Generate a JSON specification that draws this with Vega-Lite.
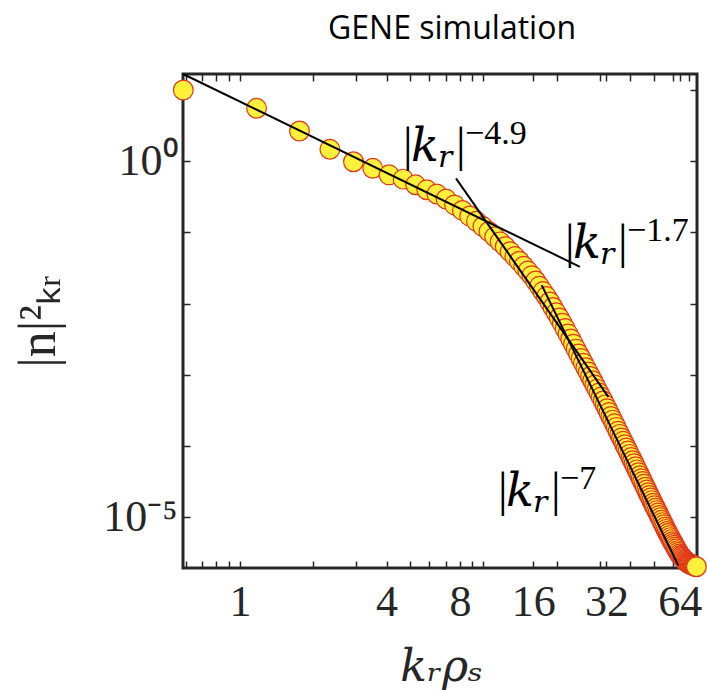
{
 "$schema": "https://vega.github.io/schema/vega-lite/v6.json",
 "width": 514,
 "height": 494,
 "autosize": {"type": "none"},
 "padding": {"left": 183, "top": 74, "right": 10, "bottom": 123},
 "background": "white",
 "title": {"text": "GENE simulation", "font": "Open Sans", "fontSize": 32, "fontWeight": "normal", "color": "#000000", "anchor": "middle", "dx": 12, "offset": -3, "baseline": "alphabetic", "frame": "group"},
 "config": {
  "view": {"stroke": "#262626", "strokeWidth": 3},
  "axis": {"grid": false, "domain": false, "tickColor": "#262626", "tickWidth": 1.5, "labelColor": "#262626", "titleColor": "#262626", "labelFont": "Liberation Serif", "titleFont": "DejaVu Serif", "titleFontWeight": "normal"}
 },
 "datasets": {
  "pts": [
   {"k":0.585,"v":10.07},{"k":1.17,"v":5.57},{"k":1.755,"v":2.67},{"k":2.34,"v":1.476},{"k":2.925,"v":0.986},
   {"k":3.51,"v":0.798},{"k":4.095,"v":0.646},{"k":4.68,"v":0.562},{"k":5.265,"v":0.468},{"k":5.85,"v":0.398},
   {"k":6.435,"v":0.347},{"k":7.02,"v":0.295},{"k":7.605,"v":0.244},{"k":8.19,"v":0.204},{"k":8.775,"v":0.170},
   {"k":9.36,"v":0.1435},{"k":9.945,"v":0.121},{"k":10.53,"v":0.103},{"k":11.115,"v":0.0869},{"k":11.7,"v":0.0738},
   {"k":12.285,"v":0.0631},{"k":12.87,"v":0.0537},{"k":13.455,"v":0.0458},{"k":14.04,"v":0.0394},{"k":14.625,"v":0.0335},
   {"k":15.21,"v":0.0287},{"k":15.795,"v":0.0247},{"k":16.38,"v":0.0208},{"k":16.965,"v":0.0175},{"k":17.55,"v":0.01476},
   {"k":18.135,"v":0.01256},{"k":18.72,"v":0.01054},{"k":19.305,"v":8.83e-3},{"k":19.89,"v":7.43e-3},{"k":20.475,"v":6.27e-3},
   {"k":21.06,"v":5.31e-3},{"k":21.645,"v":4.47e-3},{"k":22.23,"v":3.75e-3},{"k":22.815,"v":3.18e-3},{"k":23.4,"v":2.69e-3},
   {"k":23.985,"v":2.29e-3},{"k":24.57,"v":1.96e-3},{"k":25.155,"v":1.69e-3},{"k":25.74,"v":1.45e-3},{"k":26.325,"v":1.25e-3},
   {"k":26.91,"v":1.09e-3},{"k":27.495,"v":9.44e-4},{"k":28.08,"v":8.24e-4},{"k":28.665,"v":7.18e-4},{"k":29.25,"v":6.28e-4},
   {"k":29.835,"v":5.52e-4},{"k":30.42,"v":4.85e-4},{"k":31.005,"v":4.27e-4},{"k":31.59,"v":3.77e-4},{"k":32.175,"v":3.33e-4},
   {"k":32.76,"v":2.94e-4},{"k":33.345,"v":2.59e-4},{"k":33.93,"v":2.30e-4},{"k":34.515,"v":2.04e-4},{"k":35.1,"v":1.82e-4},
   {"k":35.685,"v":1.61e-4},{"k":36.27,"v":1.45e-4},{"k":36.855,"v":1.29e-4},{"k":37.44,"v":1.16e-4},{"k":38.025,"v":1.04e-4},
   {"k":38.61,"v":9.35e-5},{"k":39.195,"v":8.45e-5},{"k":39.78,"v":7.60e-5},{"k":40.365,"v":6.85e-5},{"k":40.95,"v":6.19e-5},
   {"k":41.535,"v":5.62e-5},{"k":42.12,"v":5.08e-5},{"k":42.705,"v":4.60e-5},{"k":43.29,"v":4.20e-5},{"k":43.875,"v":3.80e-5},
   {"k":44.46,"v":3.46e-5},{"k":45.045,"v":3.15e-5},{"k":45.63,"v":2.88e-5},{"k":46.215,"v":2.62e-5},{"k":46.8,"v":2.40e-5},
   {"k":47.385,"v":2.19e-5},{"k":47.97,"v":2.01e-5},{"k":48.555,"v":1.85e-5},{"k":49.14,"v":1.70e-5},{"k":49.725,"v":1.56e-5},
   {"k":50.31,"v":1.44e-5},{"k":50.895,"v":1.33e-5},{"k":51.48,"v":1.23e-5},{"k":52.065,"v":1.14e-5},{"k":52.65,"v":1.05e-5},
   {"k":53.235,"v":9.75e-6},{"k":53.82,"v":9.02e-6},{"k":54.405,"v":8.34e-6},{"k":54.99,"v":7.76e-6},{"k":55.575,"v":7.18e-6},
   {"k":56.16,"v":6.70e-6},{"k":56.745,"v":6.25e-6},{"k":57.33,"v":5.86e-6},{"k":57.915,"v":5.47e-6},{"k":58.5,"v":5.13e-6},
   {"k":59.085,"v":4.81e-6},{"k":59.67,"v":4.49e-6},{"k":60.255,"v":4.24e-6},{"k":60.84,"v":4.01e-6},{"k":61.425,"v":3.78e-6},
   {"k":62.01,"v":3.57e-6},{"k":62.595,"v":3.37e-6},{"k":63.18,"v":3.19e-6},{"k":63.765,"v":3.01e-6},{"k":64.35,"v":2.89e-6},
   {"k":64.935,"v":2.80e-6},{"k":65.52,"v":2.71e-6},{"k":66.105,"v":2.62e-6},{"k":66.69,"v":2.54e-6},{"k":67.275,"v":2.46e-6},
   {"k":67.86,"v":2.39e-6},{"k":68.445,"v":2.31e-6},{"k":69.03,"v":2.27e-6},{"k":69.615,"v":2.23e-6},{"k":70.2,"v":2.20e-6},
   {"k":70.785,"v":2.17e-6},{"k":71.37,"v":2.14e-6},{"k":71.955,"v":2.11e-6},{"k":72.54,"v":2.08e-6},{"k":73.125,"v":2.06e-6},
   {"k":73.71,"v":2.04e-6},{"k":74.295,"v":2.02e-6},{"k":74.88,"v":2.00e-6}
  ],
  "fits": [
   {"fit":"a","k":0.5835,"v":16.9},{"fit":"a","k":24.9,"v":0.0329},
   {"fit":"b","k":7.71,"v":0.577},{"fit":"b","k":32.56,"v":4.88e-4},
   {"fit":"c","k":17.34,"v":0.0182},{"fit":"c","k":63.1,"v":2.09e-6}
  ],
  "ann": [
   {"k":4.76,"v":1.01,"sup":"−4.9"},
   {"k":22.03,"v":0.0436,"sup":"−1.7"},
   {"k":11.69,"v":1.445e-5,"sup":"−7"}
  ]
 },
 "layer": [
  {
   "data": {"name": "pts"},
   "mark": {"type": "circle", "size": 390, "fill": "#FFF03C", "stroke": "#E0361A", "strokeWidth": 1.2, "opacity": 1, "clip": false},
   "encoding": {
    "x": {"field": "k", "type": "quantitative", "scale": {"type": "log", "domain": [0.5835, 75.3], "nice": false},
     "axis": {"orient": "bottom", "values": [0.6,0.7,0.8,0.9,1,2,3,4,5,6,7,8,9,10,16,20,30,32,40,50,60,64,70],
      "labelExpr": "indexof([1,4,8,16,32,64], datum.value) >= 0 ? '' + datum.value : ''",
      "tickSize": -7, "labelPadding": 54, "labelBaseline": "alphabetic", "labelFontSize": 44, "labelOverlap": false, "labelFlush": false,
      "title": "kᵣρₛ", "titleFontSize": 44, "titleFontStyle": "italic", "titleX": 258, "titleY": 112, "titleBaseline": "alphabetic", "titleAlign": "center"}},
    "y": {"field": "v", "type": "quantitative", "scale": {"type": "log", "domain": [1.919e-6, 16.9], "nice": false},
     "axis": {"orient": "left", "values": [10,1,0.1,0.01,0.001,0.0001,0.00001],
      "labelExpr": "datum.value == 1 ? '10⁰' : (datum.value == 0.00001 ? '10⁻⁵' : '')",
      "tickSize": -7, "labelPadding": 13, "labelFontSize": 44, "labelBaseline": "middle", "labelOverlap": false, "labelFlush": false,
      "title": "\u00a0\u00a0\u00a0|n|²ₖᵣ", "titleFont": "Liberation Serif", "titleFontSize": 52, "titleAngle": -90, "titleX": -129, "titleY": 247, "titleBaseline": "alphabetic", "titleAlign": "center"}}
   }
  },
  {
   "data": {"name": "fits"},
   "mark": {"type": "line", "color": "#000000", "strokeWidth": 2, "clip": false},
   "encoding": {
    "x": {"field": "k", "type": "quantitative", "scale": {"type": "log", "domain": [0.5835, 75.3], "nice": false},
     "axis": {"orient": "top", "values": [0.6,0.7,0.8,0.9,1,2,3,4,5,6,7,8,9,10,16,20,30,32,40,50,60,64,70], "labels": false, "tickSize": -7, "title": null}},
    "y": {"field": "v", "type": "quantitative", "scale": {"type": "log", "domain": [1.919e-6, 16.9], "nice": false},
     "axis": {"orient": "right", "values": [10,1,0.1,0.01,0.001,0.0001,0.00001], "labels": false, "tickSize": -7, "title": null}},
    "detail": {"field": "fit"}
   }
  },
  {
   "data": {"name": "ann"},
   "mark": {"type": "text", "text": "|", "font": "Liberation Serif", "fontSize": 48, "align": "left", "baseline": "alphabetic", "color": "#000000", "dx": -2},
   "encoding": {
    "x": {"field": "k", "type": "quantitative", "scale": {"type": "log", "domain": [0.5835, 75.3], "nice": false}, "axis": null},
    "y": {"field": "v", "type": "quantitative", "scale": {"type": "log", "domain": [1.919e-6, 16.9], "nice": false}, "axis": null}
   }
  },
  {
   "data": {"name": "ann"},
   "mark": {"type": "text", "text": "k", "font": "DejaVu Serif", "fontStyle": "italic", "fontSize": 46, "align": "left", "baseline": "alphabetic", "color": "#000000", "dx": 6},
   "encoding": {
    "x": {"field": "k", "type": "quantitative", "scale": {"type": "log", "domain": [0.5835, 75.3], "nice": false}, "axis": null},
    "y": {"field": "v", "type": "quantitative", "scale": {"type": "log", "domain": [1.919e-6, 16.9], "nice": false}, "axis": null}
   }
  },
  {
   "data": {"name": "ann"},
   "mark": {"type": "text", "text": "r", "font": "DejaVu Serif", "fontStyle": "italic", "fontSize": 30, "align": "left", "baseline": "alphabetic", "color": "#000000", "dx": 33, "dy": 6},
   "encoding": {
    "x": {"field": "k", "type": "quantitative", "scale": {"type": "log", "domain": [0.5835, 75.3], "nice": false}, "axis": null},
    "y": {"field": "v", "type": "quantitative", "scale": {"type": "log", "domain": [1.919e-6, 16.9], "nice": false}, "axis": null}
   }
  },
  {
   "data": {"name": "ann"},
   "mark": {"type": "text", "text": "|", "font": "Liberation Serif", "fontSize": 48, "align": "left", "baseline": "alphabetic", "color": "#000000", "dx": 51},
   "encoding": {
    "x": {"field": "k", "type": "quantitative", "scale": {"type": "log", "domain": [0.5835, 75.3], "nice": false}, "axis": null},
    "y": {"field": "v", "type": "quantitative", "scale": {"type": "log", "domain": [1.919e-6, 16.9], "nice": false}, "axis": null}
   }
  },
  {
   "data": {"name": "ann"},
   "mark": {"type": "text", "font": "Liberation Serif", "fontSize": 34, "align": "left", "baseline": "alphabetic", "color": "#000000", "dx": 60, "dy": -17},
   "encoding": {
    "x": {"field": "k", "type": "quantitative", "scale": {"type": "log", "domain": [0.5835, 75.3], "nice": false}, "axis": null},
    "y": {"field": "v", "type": "quantitative", "scale": {"type": "log", "domain": [1.919e-6, 16.9], "nice": false}, "axis": null},
    "text": {"field": "sup"}
   }
  }
 ],
 "resolve": {"axis": {"x": "independent", "y": "independent"}}
}
